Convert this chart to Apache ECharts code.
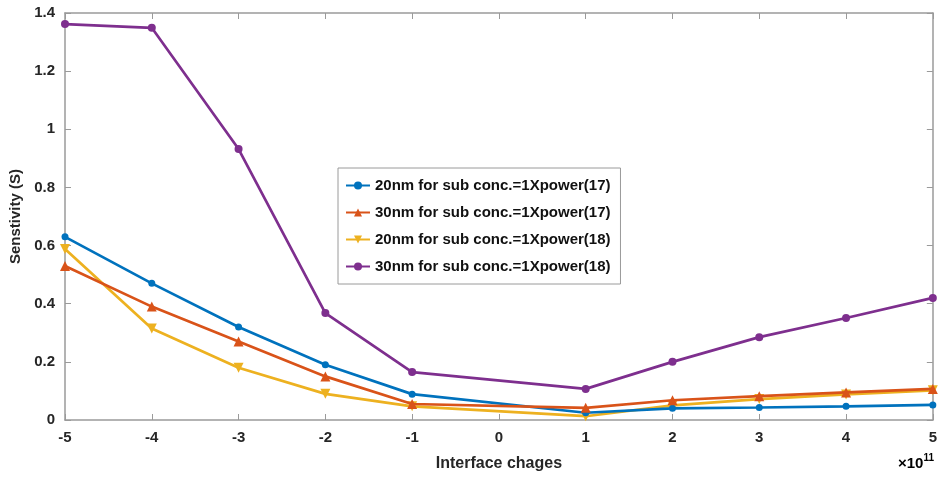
<!DOCTYPE html>
<html><head><meta charset="utf-8">
<script src="https://cdn.jsdelivr.net/npm/echarts@6/dist/echarts.min.js"></script>
<style>html,body{margin:0;padding:0;background:#fff}#c{width:940px;height:477px}</style>
</head><body><div id="c"></div>
<script>
const xValues = [-5, -4, -3, -2, -1, 1, 2, 3, 4, 5];
const seriesNames = [
  '20nm for sub conc.=1Xpower(17)',
  '30nm for sub conc.=1Xpower(17)',
  '20nm for sub conc.=1Xpower(18)',
  '30nm for sub conc.=1Xpower(18)'
];
const blue20_17 = [0.63, 0.47, 0.32, 0.19, 0.089, 0.025, 0.040, 0.043, 0.047, 0.052];
const orange30_17 = [0.53, 0.39, 0.27, 0.15, 0.055, 0.042, 0.068, 0.082, 0.095, 0.107];
const yellow20_18 = [0.588, 0.315, 0.18, 0.09, 0.047, 0.013, 0.05, 0.072, 0.088, 0.102];
const purple30_18 = [1.362, 1.349, 0.932, 0.368, 0.165, 0.107, 0.2, 0.285, 0.351, 0.42];
const xTicks = [-5, -4, -3, -2, -1, 0, 1, 2, 3, 4, 5];
const yTicks = [0, 0.2, 0.4, 0.6, 0.8, 1, 1.2, 1.4];

const colors = ['#0072BD', '#D95319', '#EDB120', '#7E2F8E'];
const symbols = ['circle', 'triangle', 'triangle', 'circle'];
const symbolSizes = [7, 10, 10, 8];
const symbolRotate = [0, 0, 180, 0];
const allData = [blue20_17, orange30_17, yellow20_18, purple30_18];

const chart = echarts.init(document.getElementById('c'));
const font = 'Arial, "Liberation Sans", sans-serif';
const axisGray = '#9a9a9a';
const textDark = '#262626';

chart.setOption({
  animation: false,
  color: colors,
  grid: { left: 65, right: 6, top: 13, bottom: 57, containLabel: false },
  legend: {
    orient: 'vertical',
    left: 338, top: 168,
    data: seriesNames,
    borderColor: '#9a9a9a', borderWidth: 1,
    padding: [10, 10, 10, 7],
    itemGap: 12, itemWidth: 24, itemHeight: 10,
    textStyle: { fontFamily: font, fontWeight: 'bold', fontSize: 15, color: '#111' },
    backgroundColor: '#fff'
  },
  xAxis: [{
    type: 'value', min: -5, max: 5, interval: 1,
    name: 'Interface chages', nameLocation: 'middle', nameGap: 36,
    nameTextStyle: { fontFamily: font, fontWeight: 'bold', fontSize: 16, color: textDark },
    axisLine: { show: true, onZero: false, lineStyle: { color: axisGray, width: 1.5 } },
    axisTick: { show: true, inside: true, length: 6, lineStyle: { color: axisGray } },
    axisLabel: { fontFamily: font, fontWeight: 'bold', fontSize: 15, color: textDark, margin: 10,
      formatter: v => xTicks.includes(v) ? String(v) : '' },
    splitLine: { show: false }
  }, {
    type: 'value', position: 'top', min: -5, max: 5, interval: 1,
    axisLine: { show: true, onZero: false, lineStyle: { color: axisGray, width: 1.5 } },
    axisTick: { show: true, inside: true, length: 6, lineStyle: { color: axisGray } },
    axisLabel: { show: false }, splitLine: { show: false }
  }],
  yAxis: [{
    type: 'value', min: 0, max: 1.4, interval: 0.2,
    name: 'Senstivity (S)', nameLocation: 'middle', nameGap: 40,
    nameTextStyle: { fontFamily: font, fontWeight: 'bold', fontSize: 15, color: textDark },
    axisLine: { show: true, onZero: false, lineStyle: { color: axisGray, width: 1.5 } },
    axisTick: { show: true, inside: true, length: 6, lineStyle: { color: axisGray } },
    axisLabel: { fontFamily: font, fontWeight: 'bold', fontSize: 15, color: textDark, margin: 10,
      formatter: v => { const t = yTicks.find(k => Math.abs(k - v) < 1e-9); return t === undefined ? '' : String(+t.toFixed(1)); } },
    splitLine: { show: false }
  }, {
    type: 'value', position: 'right', min: 0, max: 1.4, interval: 0.2,
    axisLine: { show: true, onZero: false, lineStyle: { color: axisGray, width: 1.5 } },
    axisTick: { show: true, inside: true, length: 6, lineStyle: { color: axisGray } },
    axisLabel: { show: false }, splitLine: { show: false }
  }],
  graphic: [{
    type: 'text', right: 6, top: 453,
    style: {
      text: '{a|×10}{b|11}',
      rich: {
        a: { fontFamily: font, fontSize: 15, fontWeight: 'bold', color: textDark, padding: [6, 0, 0, 0] },
        b: { fontFamily: font, fontSize: 10, fontWeight: 'bold', color: textDark, padding: [0, 0, 6, 0] }
      }
    }
  }],
  series: seriesNames.map((name, i) => ({
    name, type: 'line',
    data: xValues.map((x, j) => [x, allData[i][j]]),
    symbol: symbols[i], symbolSize: symbolSizes[i], symbolRotate: symbolRotate[i],
    showAllSymbol: true,
    lineStyle: { width: 2.7, color: colors[i] },
    itemStyle: { color: colors[i] },
    z: 2 + (i === 1 ? 2 : i === 0 ? 1 : 0)
  }))
});
</script></body></html>
